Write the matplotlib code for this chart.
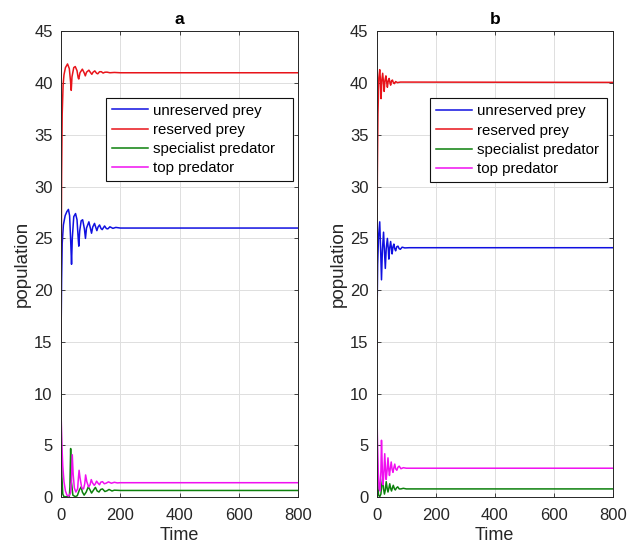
import matplotlib

matplotlib.use("Agg")
import matplotlib.pyplot as plt

plt.rcParams["font.family"] = ["Liberation Sans", "DejaVu Sans"]

LABELS = ["unreserved prey", "reserved prey", "specialist predator", "top predator"]
COLORS = ["#1010e0", "#e8141a", "#0c800c", "#f010f0"]

# panel a (time, value) keypoints
a_unres_t = [0, 2, 4, 8, 14, 20, 25, 29, 33, 35.5, 38, 43, 49, 54, 58, 60, 63, 68, 73, 79, 82.5,
             86, 94, 99, 103, 107, 113, 118, 121, 125, 130, 135, 139, 147, 153, 158, 165, 175,
             185, 200, 800]
a_unres_v = [15, 21, 24.5, 26.3, 27.2, 27.6, 27.8, 27.2, 24.5, 22.5, 25, 27.1, 27.4, 26.8, 25,
             24.25, 25.7, 26.7, 26.8, 25.9, 25.0, 26.0, 26.6, 26.0, 25.5, 26.1, 26.45, 26.0,
             25.75, 26.1, 26.3, 25.95, 25.85, 26.2, 25.95, 25.92, 26.12, 25.97, 26.06, 26.0,
             26.0]

a_res_t = [0, 1, 2, 4, 7, 10, 15, 22, 28, 32, 34.5, 37, 43, 48, 54, 58, 60, 64, 72, 78, 82, 86,
           94, 100, 104, 108, 114, 120, 124, 130, 136, 142, 148, 155, 165, 180, 200, 800]
a_res_v = [15, 24, 31, 37, 39.8, 40.8, 41.5, 41.85, 41.4, 40.2, 39.3, 40.6, 41.5, 41.6, 41.2,
           40.5, 40.4, 41.0, 41.35, 41.0, 40.7, 41.05, 41.25, 41.0, 40.85, 41.05, 41.18, 40.95,
           40.9, 41.1, 41.1, 40.97, 41.05, 41.06, 41.0, 41.03, 41.0, 41.0]

a_spec_t = [0, 1, 3, 6, 10, 28, 30, 32.5, 35, 40, 48, 55, 62, 68, 72, 78, 85, 92, 98, 103, 110,
            116, 122, 128, 134, 140, 148, 155, 162, 172, 180, 200, 800]
a_spec_v = [10, 6, 2, 0.3, 0.05, 0.05, 1.0, 4.7, 1.5, 0.2, 0.05, 0.15, 0.7, 1.0, 0.5, 0.2, 0.5,
            1.0, 0.7, 0.4, 0.7, 0.95, 0.6, 0.5, 0.75, 0.8, 0.55, 0.62, 0.75, 0.6, 0.68, 0.65, 0.65]

a_top_t = [0, 3, 6, 10, 15, 20, 26, 32, 35, 38, 41, 45, 50, 56, 58.5, 61, 64, 70, 76, 80, 83,
           87, 93, 98, 102, 106, 112, 116, 120, 125, 130, 134, 140, 146, 152, 160, 170, 180,
           190, 200, 800]
a_top_v = [8.3, 5, 3, 1.5, 0.6, 0.2, 0.1, 0.4, 1.6, 4.1, 2.2, 0.9, 0.5, 0.8, 1.8, 2.6, 1.9, 0.9,
           0.8, 1.3, 2.15, 1.5, 1.0, 1.2, 1.7, 1.4, 1.15, 1.3, 1.55, 1.35, 1.2, 1.45, 1.5, 1.3,
           1.35, 1.48, 1.35, 1.44, 1.38, 1.4, 1.4]

# panel b
b_unres_t = [0, 1.5, 3, 6, 10, 13, 16, 19, 23, 26, 29, 32, 36, 39, 41, 44, 47, 50, 52, 55, 58,
             61, 64, 68, 72, 76, 80, 86, 95, 110, 800]
b_unres_v = [14, 19, 22.5, 25.2, 26.6, 24, 21.0, 23.8, 25.6, 23.8, 22.1, 24.0, 25.0, 24.0, 23.0,
             24.1, 24.7, 24.0, 23.5, 24.2, 24.45, 24.0, 23.8, 24.2, 24.25, 24.0, 23.95, 24.15,
             24.08, 24.1, 24.1]

b_res_t = [0, 1, 2, 4, 7, 10, 12, 14.5, 17, 20, 23, 25, 28, 31, 34, 36, 39, 42, 45, 47, 50, 53,
           57, 60, 64, 70, 80, 800]
b_res_v = [14, 24, 31, 37, 40.5, 41.3, 40.5, 38.5, 40.2, 40.95, 40.0, 39.2, 40.3, 40.7, 40.0,
           39.6, 40.25, 40.45, 40.0, 39.8, 40.2, 40.3, 40.0, 39.95, 40.15, 40.05, 40.1, 40.07]

b_spec_t = [0, 1, 3, 6, 10, 14, 17, 20, 23, 26, 29, 32, 35, 38, 41, 44, 47, 50, 53, 56, 60, 63,
            67, 71, 76, 82, 90, 100, 800]
b_spec_v = [10, 5, 1.5, 0.2, 0.05, 0.3, 1.2, 1.8, 0.8, 0.3, 0.7, 1.5, 0.9, 0.5, 0.85, 1.3, 0.85,
            0.6, 0.9, 1.15, 0.8, 0.7, 0.9, 1.0, 0.8, 0.8, 0.86, 0.8, 0.8]

b_top_t = [0, 2, 5, 8, 11, 14, 16, 19, 21, 24, 27, 30, 32, 35, 38, 41, 43, 46, 49, 52, 55, 58,
           61, 64, 68, 72, 76, 82, 90, 100, 800]
b_top_v = [9.5, 6, 2.5, 0.8, 0.6, 2.5, 5.5, 2.5, 1.2, 2.2, 4.2, 2.5, 1.7, 2.6, 3.8, 2.6, 2.1,
           2.8, 3.4, 2.7, 2.4, 2.85, 3.2, 2.75, 2.6, 2.9, 3.0, 2.75, 2.85, 2.8, 2.8]

PANELS = [
    ("a", [(a_unres_t, a_unres_v), (a_res_t, a_res_v), (a_spec_t, a_spec_v), (a_top_t, a_top_v)]),
    ("b", [(b_unres_t, b_unres_v), (b_res_t, b_res_v), (b_spec_t, b_spec_v), (b_top_t, b_top_v)]),
]

X_TICKS = [0, 200, 400, 600, 800]
Y_TICKS = list(range(0, 50, 5))


def _draw_panel(ax, title, series, legend_box):
    for (t, v), label, color in zip(series, LABELS, COLORS):
        ax.plot(t, v, color=color, lw=1.1, label=label)
    ax.set_xlim(0, 800)
    ax.set_ylim(0, 45)
    ax.set_xticks(X_TICKS)
    ax.set_yticks(Y_TICKS)
    ax.grid(True, color="#dedede", lw=0.7)
    ax.set_axisbelow(True)
    ax.tick_params(direction="in", top=True, right=True, labelsize=12,
                   colors="#262626", length=3, width=0.6)
    ax.tick_params(axis="x", pad=8)
    ax.tick_params(axis="y", pad=6)
    for spine in ax.spines.values():
        spine.set_color("#262626")
        spine.set_linewidth(0.7)
    ax.set_title(title, fontsize=12.5, fontweight="bold", pad=5)
    ax.set_xlabel("Time", fontsize=13, color="#262626", labelpad=3)
    ax.set_ylabel("population", fontsize=13.5, color="#262626", labelpad=2)
    # MATLAB-style box: wider than its content, so stretch it to a fixed width
    leg = ax.legend(loc="upper left", bbox_to_anchor=legend_box, mode="expand",
                    fontsize=10.8, frameon=True, fancybox=False, framealpha=1,
                    edgecolor="#111111", handlelength=2.4, handletextpad=0.35,
                    labelspacing=0.35, borderpad=0.4, borderaxespad=0)
    leg.get_frame().set_linewidth(0.8)


def main():
    fig = plt.figure(figsize=(6.29, 5.5), dpi=100)
    ax_a = fig.add_axes([0.097, 0.096, 0.377, 0.847])
    ax_b = fig.add_axes([0.599, 0.096, 0.375, 0.847])
    _draw_panel(ax_a, PANELS[0][0], PANELS[0][1], (0.19, 0.68, 0.789, 0.178))
    _draw_panel(ax_b, PANELS[1][0], PANELS[1][1], (0.225, 0.68, 0.75, 0.176))
    fig.savefig("out.png", dpi=100)
    plt.close(fig)


if __name__ == "__main__":
    main()
